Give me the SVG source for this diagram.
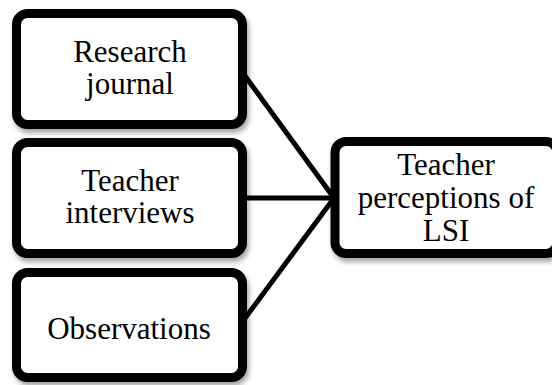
<svg xmlns="http://www.w3.org/2000/svg" width="552" height="385" viewBox="0 0 552 385">
  <defs>
    <filter id="sh" x="-10%" y="-10%" width="130%" height="140%">
      <feDropShadow dx="2" dy="4" stdDeviation="2.5" flood-color="#000" flood-opacity="0.35"/>
    </filter>
    <style>
      .box { fill: #fff; stroke: #000; stroke-width: 9; filter: url(#sh); }
      .conn { stroke: #000; stroke-width: 5; fill: none; }
      text { font-family: "Liberation Serif", "DejaVu Serif", serif; font-size: 31px; fill: #000; text-anchor: middle; }
    </style>
  </defs>
  <rect width="552" height="385" fill="#fff"/>
  <g id="connectors">
    <line class="conn" x1="240" y1="69" x2="334" y2="198"/>
    <line class="conn" x1="240" y1="198" x2="334" y2="198"/>
    <line class="conn" x1="240" y1="325" x2="334" y2="198"/>
  </g>
  <g id="research-journal">
    <rect class="box" x="16.5" y="13.5" width="226" height="111" rx="11"/>
    <text x="130" y="62">Research</text>
    <text x="130" y="94">journal</text>
  </g>
  <g id="teacher-interviews">
    <rect class="box" x="16.5" y="142.5" width="226" height="111" rx="11"/>
    <text x="130" y="191">Teacher</text>
    <text x="130" y="223">interviews</text>
  </g>
  <g id="observations">
    <rect class="box" x="16.5" y="272.5" width="226" height="105" rx="11"/>
    <text x="129" y="339">Observations</text>
  </g>
  <g id="teacher-perceptions">
    <rect class="box" x="335" y="141.5" width="222" height="112" rx="11"/>
    <text x="446" y="175">Teacher</text>
    <text x="446" y="208">perceptions of</text>
    <text x="446" y="241">LSI</text>
  </g>
</svg>
